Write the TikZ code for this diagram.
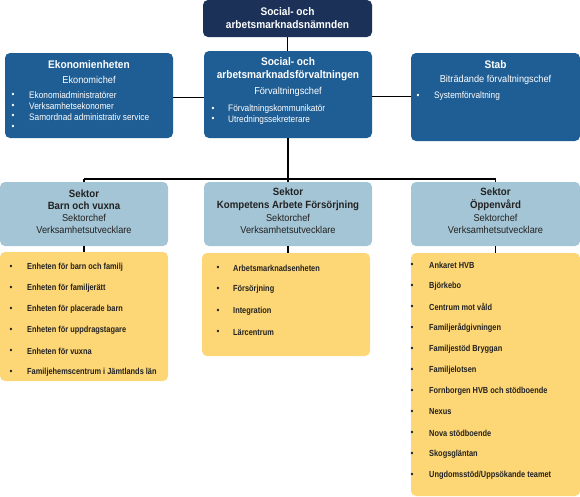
\documentclass[tikz,border=0pt]{standalone}
\usepackage{fontspec}
\setmainfont{Liberation Sans}[FakeStretch=0.92]
\newfontfamily\nfa{Liberation Sans}[FakeStretch=0.84]
\newfontfamily\nfb{Liberation Sans}[FakeStretch=0.88]
\definecolor{navy}{HTML}{1B3158}
\definecolor{mblue}{HTML}{1F5E94}
\definecolor{lblue}{HTML}{A4C5D5}
\definecolor{ylw}{HTML}{FDD675}
\definecolor{dtext}{HTML}{222222}
\tikzset{
  box/.style={rounded corners=5pt, anchor=north west, inner sep=0pt, outer sep=0pt, draw=none},
  conn/.style={line width=1.8pt, black},
  ttl/.style={font=\bfseries\fontsize{11}{13}\selectfont, align=center, inner sep=0pt},
  sub/.style={font=\fontsize{10}{12}\selectfont, align=center, inner sep=0pt},
  item/.style={font=\nfb\fontsize{9.4}{10}\selectfont, anchor=west, inner sep=0pt},
  yitem/.style={font=\nfa\bfseries\fontsize{8.8}{10}\selectfont, anchor=west, inner sep=0pt, text=dtext},
  bul/.style={font=\fontsize{9}{10}\selectfont, inner sep=0pt},
}
\begin{document}
\begin{tikzpicture}[x=1pt,y=-1pt]
\useasboundingbox (0,0) rectangle (580,496);
% boxes
\node[box, fill=navy, minimum width=169pt, minimum height=37pt] (nmd) at (203,0) {};
\node[box, fill=mblue, minimum width=168pt, minimum height=85pt] (eko) at (5,53) {};
\node[box, fill=mblue, minimum width=168pt, minimum height=87pt] (fv) at (204,51) {};
\node[box, fill=mblue, minimum width=169pt, minimum height=88pt] (stab) at (411,53) {};
\node[box, fill=lblue, minimum width=168pt, minimum height=64pt] (sk1) at (0,182) {};
\node[box, fill=lblue, minimum width=168pt, minimum height=64pt] (sk2) at (204,182) {};
\node[box, fill=lblue, minimum width=169pt, minimum height=64pt] (sk3) at (411,182) {};
\node[box, fill=ylw, minimum width=168pt, minimum height=129pt] (y1) at (0,252) {};
\node[box, fill=ylw, minimum width=168pt, minimum height=103pt] (y2) at (202,253) {};
\node[box, fill=ylw, minimum width=169pt, minimum height=243pt] (y3) at (411,253) {};
\coordinate (bus) at (288,179);
% connectors
\draw[conn] (nmd.south) -- (nmd.south |- fv.north);
\draw[conn] ([yshift=-2pt]eko.east) -- ([yshift=-2pt]eko.east -| fv.west);
\draw[conn] ([yshift=-2pt]fv.east) -- ([yshift=-2pt]fv.east -| stab.west);
\draw[conn] (fv.south -| bus) -- (bus);
\draw[conn] (bus -| sk1.north) -- (bus -| sk3.north);
\draw[conn] (bus -| sk1.north) -- (sk1.north);
\draw[conn] (bus) -- (bus |- sk2.north);
\draw[conn] (bus -| sk3.north) -- (sk3.north);
\draw[conn] (sk1.south) -- (sk1.south |- y1.north);
\draw[conn] (sk2.south -| bus) -- (bus |- y2.north);
\draw[conn] (sk3.south) -- (sk3.south |- y3.north);
% top box text
\node[ttl, text=white] (t0) at (287.5,18.5) {Social- och\\arbetsmarknadsnämnden};
% Ekonomienheten
\node[ttl, text=white] (t1) at (89,65) {Ekonomienheten};
\node[sub, text=white] (s1) at (89,80) {Ekonomichef};
\foreach \t [count=\i] in {Ekonomiadministratörer,Verksamhetsekonomer,Samordnad administrativ service,{}}{
  \node[bul, text=white] (eb\i) at (13,{85+10.6*\i}) {•};
  \node[item, text=white] (ei\i) at (29,{85+10.6*\i}) {\t};
}
% Forvaltning
\node[ttl, text=white] (t2) at (288,69.5) {Social- och\\arbetsmarknadsförvaltningen};
\node[sub, text=white] (s2) at (288,92) {Förvaltningschef};
\foreach \t [count=\i] in {Förvaltningskommunikatör,Utredningssekreterare}{
  \node[bul, text=white] (fb\i) at (213,{99+10.3*\i}) {•};
  \node[item, text=white] (fi\i) at (228,{99+10.3*\i}) {\t};
}
% Stab
\node[ttl, text=white] (t3) at (495.5,65) {Stab};
\node[sub, text=white] (s3) at (495.5,80) {Biträdande förvaltningschef};
\node[bul, text=white] (sb1) at (418,96) {•};
\node[item, text=white] (si1) at (434,96) {Systemförvaltning};
% Sectors
\node[ttl, text=dtext, font=\bfseries\fontsize{10.5}{12.5}\selectfont] (k1) at (84,199.5) {Sektor\\Barn och vuxna};
\node[sub, text=dtext] (m1) at (84,224) {Sektorchef\\Verksamhetsutvecklare};
\node[ttl, text=dtext, font=\bfseries\fontsize{10.5}{12.5}\selectfont] (k2) at (288,199.5) {Sektor\\Kompetens Arbete Försörjning};
\node[sub, text=dtext] (m2) at (288,224) {Sektorchef\\Verksamhetsutvecklare};
\node[ttl, text=dtext, font=\bfseries\fontsize{10.5}{12.5}\selectfont] (k3) at (495.5,199.5) {Sektor\\Öppenvård};
\node[sub, text=dtext] (m3) at (495.5,224) {Sektorchef\\Verksamhetsutvecklare};
% yellow lists
\foreach \t [count=\i] in {Enheten för barn och familj,Enheten för familjerätt,Enheten för placerade barn,Enheten för uppdragstagare,Enheten för vuxna,Familjehemscentrum i Jämtlands län}{
  \node[bul, text=dtext] (ab\i) at (11,{246+21*\i}) {•};
  \node[yitem] (ai\i) at (27,{246+21*\i}) {\t};
}
\foreach \t [count=\i] in {Arbetsmarknadsenheten,Försörjning,Integration,Lärcentrum}{
  \node[bul, text=dtext] (bb\i) at (218,{247+21.3*\i}) {•};
  \node[yitem] (bi\i) at (233,{247+21.3*\i}) {\t};
}
\foreach \t [count=\i] in {Ankaret HVB,Björkebo,Centrum mot våld,Familjerådgivningen,Familjestöd Bryggan,Familjelotsen,Fornborgen HVB och stödboende,Nexus,Nova stödboende,Skogsgläntan,Ungdomsstöd/Uppsökande teamet}{
  \node[bul, text=dtext] (cb\i) at (412,{244+21*\i}) {•};
  \node[yitem] (ci\i) at (429,{244+21*\i}) {\t};
}
\end{tikzpicture}
\end{document}
